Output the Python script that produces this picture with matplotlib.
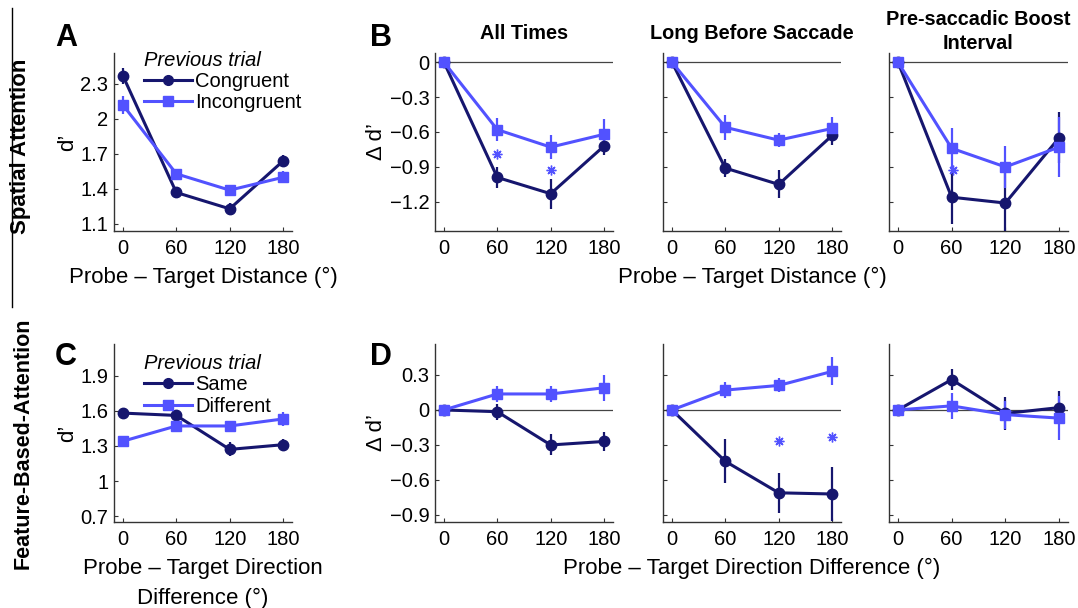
import matplotlib
matplotlib.use("Agg")
import matplotlib.pyplot as plt
from matplotlib.lines import Line2D

plt.rcParams['font.family'] = ['Liberation Sans', 'DejaVu Sans']

NAVY = '#16166e'
LIGHT = '#5252ff'

x = [0, 60, 120, 180]
xticks = [0, 60, 120, 180]

# Panel A (spatial, raw d')
A_cong = [2.37, 1.37, 1.23, 1.64]
A_cong_err = [0.07, 0.04, 0.05, 0.05]
A_incong = [2.12, 1.53, 1.39, 1.50]
A_incong_err = [0.08, 0.04, 0.03, 0.05]

# Panel B (spatial, delta d')
B_titles = ['All Times', 'Long Before Saccade', 'Pre-saccadic Boost\nInterval']
B_cong = [[0, -0.99, -1.13, -0.72],
          [0, -0.91, -1.05, -0.63],
          [0, -1.16, -1.21, -0.65]]
B_cong_err = [[0, 0.09, 0.13, 0.08],
              [0, 0.08, 0.12, 0.08],
              [0, 0.23, 0.28, 0.22]]
B_incong = [[0, -0.58, -0.73, -0.62],
            [0, -0.56, -0.67, -0.57],
            [0, -0.74, -0.90, -0.73]]
B_incong_err = [[0, 0.10, 0.10, 0.13],
                [0, 0.11, 0.06, 0.10],
                [0, 0.17, 0.18, 0.26]]
B_star_x = [[60, 120], [], [62]]
B_star_y = [[-0.79, -0.93], [], [-0.93]]

# Panel C (feature, raw d')
C_same = [1.58, 1.56, 1.27, 1.31]
C_same_err = [0.03, 0.04, 0.06, 0.05]
C_diff = [1.34, 1.47, 1.47, 1.53]
C_diff_err = [0.04, 0.05, 0.03, 0.06]

# Panel D (feature, delta d')
D_same = [[0, -0.015, -0.30, -0.27],
          [0, -0.44, -0.71, -0.72],
          [0, 0.26, -0.03, 0.02]]
D_same_err = [[0, 0.07, 0.09, 0.08],
              [0, 0.19, 0.17, 0.23],
              [0, 0.09, 0.14, 0.14]]
D_diff = [[0, 0.137, 0.137, 0.19],
          [0, 0.17, 0.21, 0.33],
          [0, 0.035, -0.04, -0.07]]
D_diff_err = [[0, 0.07, 0.07, 0.11],
              [0, 0.07, 0.06, 0.12],
              [0, 0.11, 0.12, 0.19]]
D_star_x = [[], [120, 180], []]
D_star_y = [[], [-0.27, -0.23], []]

W, H = 1078, 608
fig = plt.figure(figsize=(W / 100, H / 100), dpi=100)


def rect(l, r, t, b):
    return [l / W, 1 - b / H, (r - l) / W, (b - t) / H]


TICK_FS = 14.5
LAB_FS = 16
LEG_FS = 14.5


def style(ax, yticks, ylim, show_ylabels=True):
    ax.set_xlim(-10, 190)
    ax.set_ylim(*ylim)
    ax.set_xticks(xticks)
    ax.set_yticks(yticks)
    if show_ylabels:
        ax.set_yticklabels([('%g' % v).replace('-', '\u2212') for v in yticks])
    else:
        ax.set_yticklabels([])
    ax.spines['top'].set_visible(False)
    ax.spines['right'].set_visible(False)
    for s in ('left', 'bottom'):
        ax.spines[s].set_color('#333333')
        ax.spines[s].set_linewidth(1.0)
    ax.tick_params(direction='in', length=3, width=0.8, labelsize=TICK_FS,
                   colors='#333333', labelcolor='black')
    ax.tick_params(axis='y', pad=4)
    ax.tick_params(axis='x', pad=6)


def series(ax, y, err, color, marker, ms):
    ax.errorbar(x, y, yerr=err, color=color, marker=marker, markersize=ms,
                lw=2.2, elinewidth=1.6, capsize=0, zorder=3,
                markeredgecolor=color, markerfacecolor=color)


def legend(ax, labels, anchor):
    h = [Line2D([], [], color=NAVY, marker='o', lw=2.2, ms=7),
         Line2D([], [], color=LIGHT, marker='s', lw=2.2, ms=7)]
    ax.legend(h, labels, loc='upper left', bbox_to_anchor=anchor,
              frameon=False, fontsize=LEG_FS, handlelength=2.4,
              handletextpad=0.15, labelspacing=0.12, borderpad=0,
              title='Previous trial',
              title_fontproperties={'style': 'italic', 'size': LEG_FS},
              alignment='left')


# Panel A
axA = fig.add_axes(rect(114, 292, 53, 231))
series(axA, A_cong, A_cong_err, NAVY, 'o', 7.5)
series(axA, A_incong, A_incong_err, LIGHT, 's', 7.5)
style(axA, [1.1, 1.4, 1.7, 2.0, 2.3], (1.04, 2.565))
axA.set_yticklabels(['1.1', '1.4', '1.7', '2', '2.3'])
axA.set_ylabel("d\u2019", fontsize=LAB_FS, labelpad=2)
axA.set_xlabel('Probe \u2013 Target Distance (\u00b0)', fontsize=LAB_FS, labelpad=6)
legend(axA, ['Congruent', 'Incongruent'], (0.11, 1.07))

# Panel B
B_lr = [(435, 613), (663, 841), (889, 1068)]
B_title_pad = [10, 10, 3]
for i, (l, r) in enumerate(B_lr):
    ax = fig.add_axes(rect(l, r, 53, 231))
    ax.axhline(0, color='#444444', lw=0.9, zorder=1)
    series(ax, B_cong[i], B_cong_err[i], NAVY, 'o', 7.5)
    series(ax, B_incong[i], B_incong_err[i], LIGHT, 's', 7.5)
    if B_star_x[i]:
        ax.plot(B_star_x[i], B_star_y[i], linestyle='none', marker=(8, 2, 0),
                color=LIGHT, markersize=7, mew=1.0, zorder=4)
    style(ax, [-1.2, -0.9, -0.6, -0.3, 0], (-1.45, 0.078), show_ylabels=(i == 0))
    if i == 0:
        ax.set_yticklabels(['\u22121.2', '\u22120.9', '\u22120.6', '\u22120.3', '0'])
        ax.set_ylabel('\u0394 d\u2019', fontsize=LAB_FS, labelpad=2)
    ax.set_title(B_titles[i], fontsize=14.3, fontweight='bold', pad=B_title_pad[i],
                 linespacing=1.3)
    if i == 1:
        ax.set_xlabel('Probe \u2013 Target Distance (\u00b0)', fontsize=LAB_FS, labelpad=6)

# Panel C
axC = fig.add_axes(rect(114, 292, 344, 522))
series(axC, C_same, C_same_err, NAVY, 'o', 7.5)
series(axC, C_diff, C_diff_err, LIGHT, 's', 7.5)
style(axC, [0.7, 1.0, 1.3, 1.6, 1.9], (0.65, 2.17))
axC.set_yticklabels(['0.7', '1', '1.3', '1.6', '1.9'])
axC.set_ylabel("d\u2019", fontsize=LAB_FS, labelpad=2)
axC.set_xlabel('Probe \u2013 Target Direction\nDifference (\u00b0)', fontsize=LAB_FS,
               labelpad=6, linespacing=1.6)
legend(axC, ['Same', 'Different'], (0.11, 1.0))

# Panel D
for i, (l, r) in enumerate(B_lr):
    ax = fig.add_axes(rect(l, r, 344, 522))
    ax.axhline(0, color='#444444', lw=0.9, zorder=1)
    series(ax, D_same[i], D_same_err[i], NAVY, 'o', 7.5)
    series(ax, D_diff[i], D_diff_err[i], LIGHT, 's', 7.5)
    if D_star_x[i]:
        ax.plot(D_star_x[i], D_star_y[i], linestyle='none', marker=(8, 2, 0),
                color=LIGHT, markersize=7, mew=1.0, zorder=4)
    style(ax, [-0.9, -0.6, -0.3, 0, 0.3], (-0.96, 0.565), show_ylabels=(i == 0))
    if i == 0:
        ax.set_yticklabels(['\u22120.9', '\u22120.6', '\u22120.3', '0', '0.3'])
        ax.set_ylabel('\u0394 d\u2019', fontsize=LAB_FS, labelpad=2)
    if i == 1:
        ax.set_xlabel('Probe \u2013 Target Direction Difference (\u00b0)', fontsize=LAB_FS,
                      labelpad=6)

# Panel letters
for lab, px, py in [('A', 66, 38), ('B', 381, 38), ('C', 66, 357), ('D', 381, 357)]:
    fig.text(px / W, 1 - py / H, lab, fontsize=22, fontweight='bold',
             ha='center', va='center')

# Row labels
fig.text(21 / W, 1 - 146 / H, 'Spatial Attention', rotation=90, fontsize=16,
         fontweight='bold', ha='center', va='center')
fig.text(23 / W, 1 - 443 / H, 'Feature-Based-Attention', rotation=90, fontsize=15.5,
         fontweight='bold', ha='center', va='center')

# Separator line
fig.add_artist(Line2D([12 / W, 12 / W], [1 - 8 / H, 1 - 307 / H], color='black', lw=1.0))

fig.savefig('out.png', dpi=100, facecolor='white')
